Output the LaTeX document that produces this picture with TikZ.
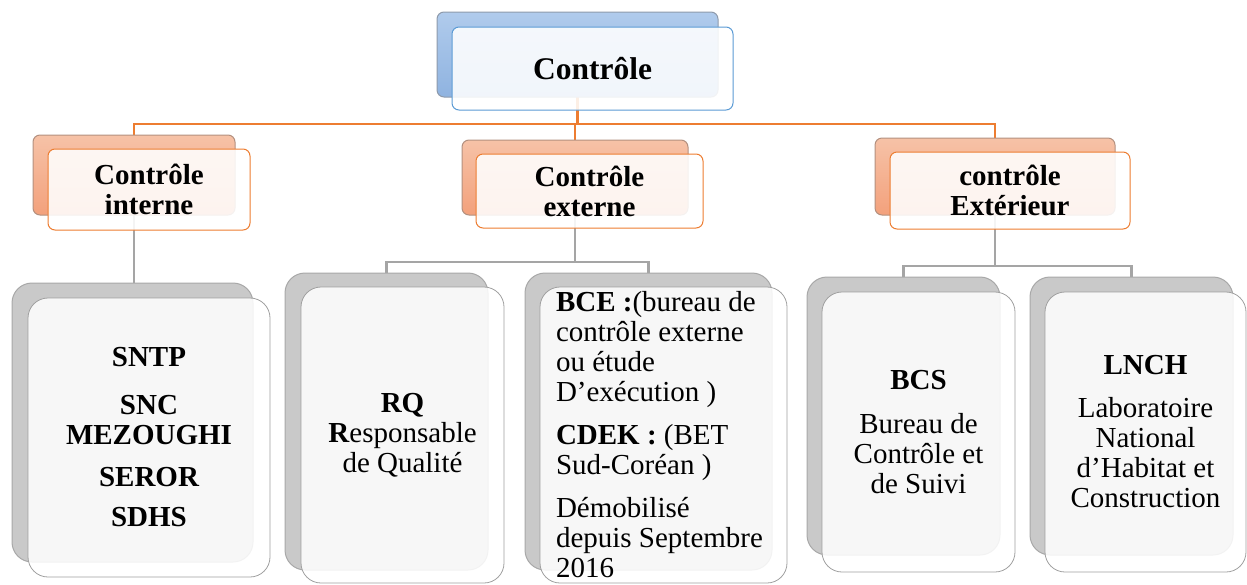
\documentclass[tikz,border=0pt]{standalone}
\usepackage{fontspec}
\setmainfont{Liberation Serif}
\pgfdeclarelayer{bg}
\pgfsetlayers{bg,main}
\definecolor{topA}{HTML}{B0CBEC}
\definecolor{topB}{HTML}{8FB3E0}
\definecolor{topbackedge}{HTML}{8E9AAB}
\definecolor{topedge}{HTML}{5B9BD5}
\definecolor{midA}{HTML}{F6C2A7}
\definecolor{midB}{HTML}{F3A17C}
\definecolor{midbackedge}{HTML}{B3907F}
\definecolor{orangeedge}{HTML}{ED7D31}
\definecolor{lowfill}{HTML}{C9C9C9}
\definecolor{lowbackedge}{HTML}{A8A8A8}
\definecolor{lowedge}{HTML}{A0A0A0}
\definecolor{grayline}{HTML}{A5A5A5}
\begin{document}
\begin{tikzpicture}[x=1pt,y=-1pt,
  box/.style={rectangle, inner sep=0pt, outer sep=0pt},
  topback/.style={box, rounded corners=7pt, draw=topbackedge, line width=1pt, top color=topA, bottom color=topB},
  topfront/.style={box, rounded corners=7pt, draw=topedge, line width=1pt, fill=white, fill opacity=0.88, text opacity=1,
    font=\fontsize{31.5}{32}\selectfont\bfseries},
  midback/.style={box, rounded corners=7pt, draw=midbackedge, line width=1pt, top color=midA, bottom color=midB},
  midfront/.style={box, rounded corners=7pt, draw=orangeedge, line width=1pt, fill=white, fill opacity=0.88, text opacity=1,
    align=center, font=\fontsize{29}{30}\selectfont\bfseries},
  lowback/.style={box, rounded corners=20pt, draw=lowbackedge, line width=1pt, fill=lowfill},
  lowfront/.style={box, rounded corners=20pt, draw=lowedge, line width=0.8pt, fill=white, fill opacity=0.86, text opacity=1,
    align=center, font=\fontsize{29}{30}\selectfont},
  oline/.style={draw=orangeedge, line width=2.4pt},
  gline/.style={draw=grayline, line width=2.4pt}]
\useasboundingbox (0,0) rectangle (1247,584);

% top
\node[topback, minimum width=281pt, minimum height=85pt] (tb) at (577.5,54.5) {};
\node[topfront, minimum width=281pt, minimum height=83pt] (tf) at (592.5,68.5) {Contrôle};

% level 2
\node[midback, minimum width=202pt, minimum height=80pt] (l1b) at (134,175) {};
\node[midfront, minimum width=202pt, minimum height=81pt] (l1f) at (149,189.5) {Contrôle\\interne};
\node[midback, minimum width=226pt, minimum height=75pt] (l2b) at (575,177.5) {};
\node[midfront, minimum width=227pt, minimum height=74pt] (l2f) at (589.5,191) {Contrôle\\externe};
\node[midback, minimum width=240pt, minimum height=77pt] (l3b) at (995,176.5) {};
\node[midfront, minimum width=240pt, minimum height=77pt] (l3f) at (1010,190.5) {contrôle\\Extérieur};

% bottom
\node[lowback, minimum width=241pt, minimum height=279pt] (b1b) at (132.5,422.5) {};
\node[lowfront, minimum width=242pt, minimum height=279pt, font=\fontsize{29}{30}\selectfont\bfseries] (b1f) at (149,437.5)
  {SNTP\\[18pt]SNC\\MEZOUGHI\\[12pt]SEROR\\[10pt]SDHS};
\node[lowback, minimum width=203pt, minimum height=297pt] (b2b) at (386.5,421.5) {};
\node[lowfront, minimum width=203pt, minimum height=296pt] (b2f) at (402.5,435)
  {\textbf{RQ}\\\textbf{R}esponsable\\de Qualité};
\node[lowback, minimum width=247pt, minimum height=297pt] (b3b) at (648.5,421.5) {};
\node[lowfront, minimum width=247pt, minimum height=296pt, text width=215pt, align=flush left] (b3f) at (663.5,435)
  {\textbf{BCE :}(bureau de\\contrôle externe\\ou étude\\D’exécution )\\[13pt]\textbf{CDEK :} (BET\\Sud-Coréan )\\[13pt]Démobilisé\\depuis Septembre\\2016};
\node[lowback, minimum width=193pt, minimum height=278pt] (b4b) at (903.5,416) {};
\node[lowfront, minimum width=193pt, minimum height=280pt] (b4f) at (918.5,432)
  {\textbf{BCS}\\[14pt]Bureau de\\Contrôle et\\de Suivi};
\node[lowback, minimum width=203pt, minimum height=278pt] (b5b) at (1131.5,416) {};
\node[lowfront, minimum width=201pt, minimum height=280pt] (b5f) at (1145.5,432)
  {\textbf{LNCH}\\[13pt]Laboratoire\\National\\d’Habitat et\\Construction};

% connectors
\begin{pgfonlayer}{bg}
\draw[oline] (tb.south) -- ++(0,27) coordinate (hub) -| (l1b.north);
\draw[oline] (hub) -| (l3b.north);
\draw[oline] (hub) -| (l2b.north);
\draw[gline] (l1b.south) -- (l1b.south |- b1b.north);
\draw[gline] (l2b.south) -- ++(0,47) coordinate (hub2) -| (b2b.north);
\draw[gline] (hub2) -| (b3b.north);
\draw[gline] (l3b.south) -- ++(0,51) coordinate (hub3) -| (b4b.north);
\draw[gline] (hub3) -| (b5b.north);
\end{pgfonlayer}
\end{tikzpicture}
\end{document}
